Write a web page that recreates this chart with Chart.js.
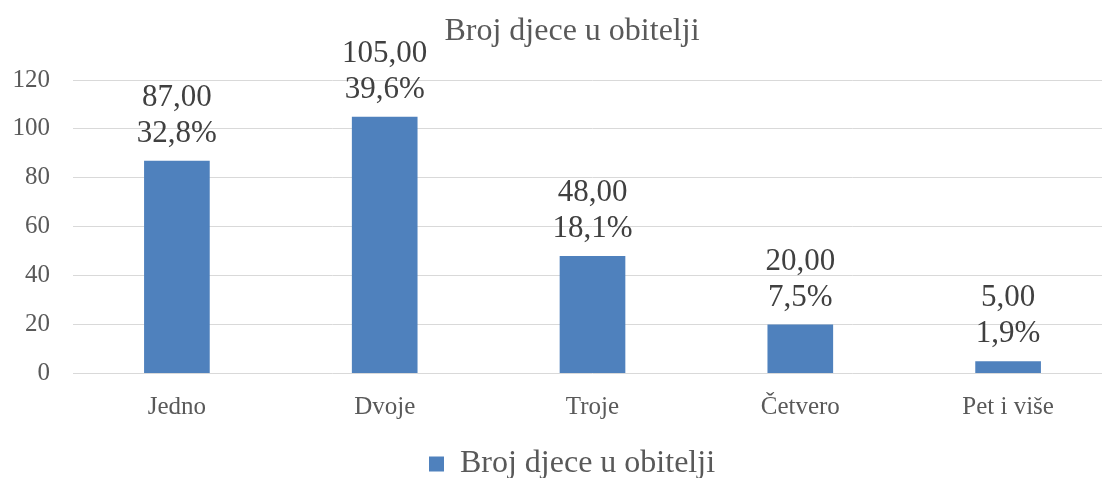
<!DOCTYPE html>
<html>
<head>
<meta charset="utf-8">
<script src="https://cdn.jsdelivr.net/npm/chart.js@4/dist/chart.umd.min.js"></script>
<style>
html,body{margin:0;padding:0;background:#fff;overflow:hidden;}
#wrap{width:1102px;height:478px;position:relative;overflow:hidden;}
#c{position:absolute;left:0;top:0;}
</style>
</head>
<body>
<div id="wrap"><canvas id="c" width="1112" height="490"></canvas></div>
<script>
const categories = ["Jedno", "Dvoje", "Troje", "Četvero", "Pet i više"];
const values = [87, 105, 48, 20, 5];
const percentLabels = ["32,8%", "39,6%", "18,1%", "7,5%", "1,9%"];
const yTicks = [0, 20, 40, 60, 80, 100, 120];
const seriesName = "Broj djece u obitelji";
const chartTitle = "Broj djece u obitelji";

const serif = "'Liberation Serif', 'Times New Roman', serif";

const labelPlugin = {
  id: 'barLabels',
  beforeDraw(chart) {
    // let y-axis tick labels extend to the left of the axis box without clipping
    chart.scales.y.left = 0;
  },
  afterDatasetsDraw(chart) {
    const meta = chart.getDatasetMeta(0);
    const ctx = chart.ctx;
    ctx.save();
    ctx.font = "31px " + serif;
    ctx.fillStyle = "#404040";
    ctx.textAlign = "center";
    ctx.textBaseline = "middle";
    meta.data.forEach((bar, i) => {
      const v = values[i].toFixed(2).replace('.', ',');
      ctx.fillText(percentLabels[i], bar.x, bar.y - 27);
      ctx.fillText(v, bar.x, bar.y - 63);
    });
    ctx.restore();
  }
};

new Chart(document.getElementById('c'), {
  type: 'bar',
  data: {
    labels: categories,
    datasets: [{
      label: seriesName,
      data: values,
      backgroundColor: '#4f81bd',
      borderWidth: 0,
      barPercentage: 0.316,
      categoryPercentage: 1
    }]
  },
  options: {
    responsive: false,
    animation: false,
    devicePixelRatio: 1,
    layout: { padding: { left: 32, right: 0, top: 0, bottom: 0 } },
    plugins: {
      title: {
        display: true,
        text: chartTitle,
        color: '#595959',
        font: { family: serif, size: 32, weight: 'normal' },
        padding: { top: 12, bottom: 29.6 }
      },
      legend: {
        display: true,
        position: 'bottom',
        labels: {
          color: '#595959',
          font: { family: serif, size: 32 },
          boxWidth: 15,
          boxHeight: 15,
          padding: 0
        }
      },
      tooltip: { enabled: false }
    },
    scales: {
      x: {
        grid: { display: false },
        border: { display: false },
        ticks: {
          color: '#595959',
          font: { family: serif, size: 25 },
          padding: 11
        },
        afterFit(scale) { scale.height = 74.5; }
      },
      y: {
        min: 0,
        max: 120,
        afterBuildTicks(scale) { scale.ticks = yTicks.map(v => ({ value: v })); },
        grid: { color: '#d9d9d9', lineWidth: 1, drawTicks: false },
        border: { display: false },
        ticks: {
          color: '#595959',
          font: { family: serif, size: 25 },
          padding: 23
        },
        afterFit(scale) { scale.width = 41; }
      }
    }
  },
  plugins: [labelPlugin]
});
</script>
</body>
</html>
